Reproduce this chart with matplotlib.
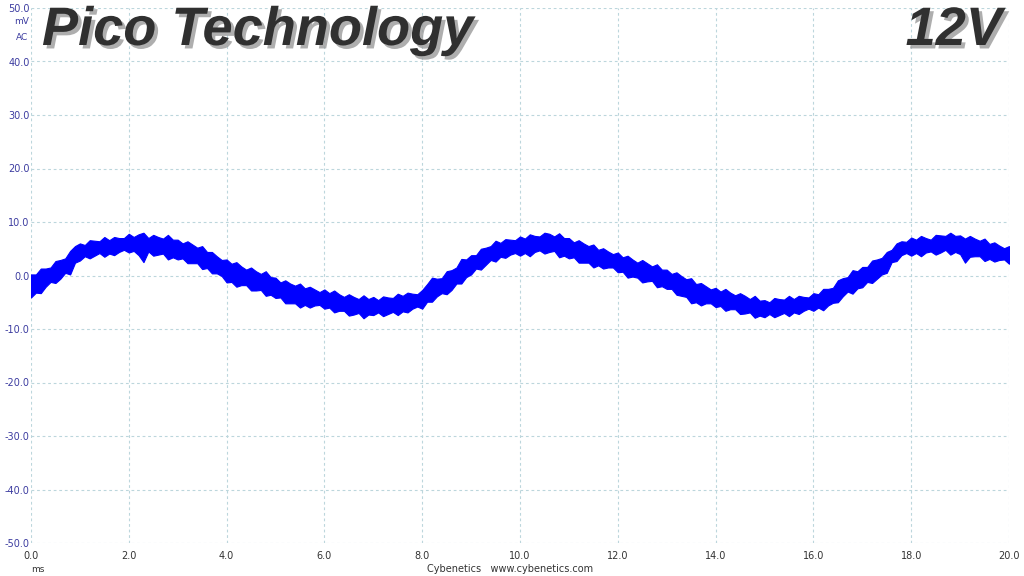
import matplotlib
matplotlib.use("Agg")
import matplotlib.pyplot as plt
import matplotlib.patheffects as pe

# ---- data: sample time (ms) and trace band edges (mV) ----
t_ms = [round(i * 0.1, 1) for i in range(201)]  # 0.0 ... 20.0 ms, 0.1 ms steps

upper_mv = [
    0.2, 0.2, 1.3, 1.3, 1.5, 2.7, 2.9, 3.2, 4.6, 5.5,
    6.0, 5.7, 6.6, 6.5, 6.4, 7.2, 6.6, 7.2, 7.0, 7.0,
    7.8, 7.2, 7.7, 8.0, 7.0, 7.6, 7.2, 6.9, 7.6, 6.7,
    6.7, 6.0, 6.4, 5.8, 5.2, 5.5, 4.4, 4.4, 3.6, 2.9,
    3.0, 2.2, 2.5, 1.7, 1.1, 1.5, 0.8, 0.3, 0.8, -0.3,
    -0.4, -1.3, -0.9, -1.5, -1.9, -1.5, -2.4, -2.1, -2.6, -3.1,
    -2.6, -3.3, -2.8, -3.5, -4.0, -3.5, -4.0, -4.4, -3.7, -4.4,
    -4.0, -4.6, -3.9, -4.1, -4.2, -3.4, -3.8, -3.2, -3.4, -3.5,
    -2.7, -1.6, -0.4, -0.6, -0.5, 0.8, 1.0, 1.5, 3.1, 3.0,
    3.8, 3.8, 5.0, 5.2, 5.5, 6.5, 6.1, 6.8, 6.7, 6.6,
    7.3, 6.9, 7.7, 7.4, 7.3, 8.0, 7.8, 7.3, 7.9, 7.0,
    7.0, 6.2, 6.6, 6.0, 5.5, 5.8, 4.8, 5.1, 4.5, 4.0,
    4.3, 3.4, 3.7, 3.0, 2.4, 2.9, 2.3, 1.7, 2.1, 1.1,
    1.1, 0.3, 0.6, -0.1, -0.7, -0.5, -1.6, -1.4, -2.0, -2.6,
    -2.3, -3.0, -2.5, -3.2, -3.7, -3.3, -3.8, -4.4, -3.8, -4.7,
    -4.6, -5.0, -4.2, -4.4, -4.5, -3.8, -4.4, -3.8, -4.0, -4.1,
    -3.3, -3.5, -2.5, -2.5, -2.3, -0.9, -0.5, -0.3, 1.0, 0.8,
    1.6, 1.6, 2.8, 3.0, 3.3, 4.4, 4.8, 6.0, 6.4, 6.3,
    7.1, 6.7, 7.4, 7.0, 6.7, 7.6, 7.5, 7.4, 8.0, 7.4,
    7.5, 6.9, 7.4, 6.9, 6.5, 6.9, 5.9, 6.2, 5.6, 5.1,
    5.5,
]

lower_mv = [
    -4.1, -3.2, -3.3, -2.1, -1.2, -1.4, -0.6, 0.5, 0.2, 2.4,
    2.8, 3.6, 3.2, 3.7, 4.2, 3.5, 4.1, 3.8, 4.4, 4.8,
    4.3, 4.6, 3.8, 2.5, 4.5, 3.7, 3.9, 4.1, 3.0, 3.4,
    3.0, 3.2, 2.3, 2.3, 2.3, 1.2, 1.4, 0.4, 0.4, -0.1,
    -1.3, -1.2, -2.1, -1.8, -1.8, -2.8, -2.8, -2.7, -3.8, -3.6,
    -4.2, -4.1, -5.2, -5.2, -5.2, -6.0, -5.5, -6.0, -5.6, -5.5,
    -6.2, -6.0, -6.9, -6.6, -6.6, -7.5, -7.3, -7.0, -8.0, -7.3,
    -7.4, -6.9, -7.6, -7.2, -6.8, -7.4, -6.7, -6.9, -6.2, -5.8,
    -6.2, -4.9, -4.9, -3.9, -3.3, -3.5, -2.7, -1.5, -1.5, -0.3,
    0.2, 1.3, 1.1, 2.0, 2.9, 2.6, 3.5, 3.3, 3.9, 4.2,
    3.7, 4.2, 3.6, 4.4, 4.7, 4.1, 4.4, 4.6, 3.4, 3.7,
    3.2, 3.4, 2.4, 2.4, 2.4, 1.5, 1.9, 1.3, 1.5, 1.5,
    0.6, 0.7, -0.4, -0.2, -0.4, -1.3, -1.1, -1.0, -2.2, -2.0,
    -2.5, -2.5, -3.6, -3.8, -4.0, -5.2, -5.0, -5.6, -5.2, -5.2,
    -5.9, -5.7, -6.6, -6.3, -6.3, -7.2, -7.1, -6.9, -7.9, -7.5,
    -7.8, -7.2, -7.8, -7.4, -7.0, -7.6, -6.9, -7.2, -6.6, -6.2,
    -6.6, -6.0, -6.5, -5.6, -5.1, -5.0, -3.9, -3.0, -3.4, -2.4,
    -2.2, -1.2, -1.4, -0.6, 0.2, 0.5, 2.5, 2.7, 3.8, 4.2,
    3.7, 4.2, 3.6, 4.3, 4.5, 3.9, 4.3, 4.8, 3.9, 4.4,
    4.0, 2.4, 3.5, 3.6, 3.6, 2.7, 3.1, 2.6, 2.9, 3.0,
    2.2,
]

x_ticks = [0.0, 2.0, 4.0, 6.0, 8.0, 10.0, 12.0, 14.0, 16.0, 18.0, 20.0]
y_ticks = [-50.0, -40.0, -30.0, -20.0, -10.0, 0.0, 10.0, 20.0, 30.0, 40.0, 50.0]
x_labels = ["%.1f" % v for v in x_ticks]
y_labels = ["%.1f" % v for v in y_ticks]

TRACE = "#0000ff"
GRID = "#bcd6dc"

fig = plt.figure(figsize=(10.24, 5.76), dpi=100)
ax = fig.add_axes([31 / 1024, 33 / 576, (1009 - 31) / 1024, (568 - 33) / 576])

ax.fill_between(t_ms, lower_mv, upper_mv, color=TRACE, linewidth=0.8,
                edgecolor=TRACE)

ax.set_xlim(0, 20)
ax.set_ylim(-50, 50)
ax.set_xticks(x_ticks)
ax.set_yticks(y_ticks)
ax.set_xticklabels(x_labels)
ax.set_yticklabels(y_labels)
ax.tick_params(axis="both", length=0, labelsize=7)
ax.tick_params(axis="x", pad=6, labelcolor="#333333")
ax.tick_params(axis="y", pad=1, labelcolor="#3c3ca0")
ax.grid(True, color=GRID, linestyle=(0, (2.5, 2.5)), linewidth=0.8)
for s in ax.spines.values():
    s.set_visible(False)
ax.set_axisbelow(True)

# axis unit annotations
fig.text(22 / 1024, 1 - 22 / 576, "mV", fontsize=6.5, color="#3c3ca0", ha="center", va="center")
fig.text(22 / 1024, 1 - 37 / 576, "AC", fontsize=6.5, color="#3c3ca0", ha="center", va="center")
fig.text(38 / 1024, 1 - 569 / 576, "ms", fontsize=6.5, color="#333333", ha="center", va="center")
fig.text(510 / 1024, 1 - 569 / 576, "Cybenetics   www.cybenetics.com", fontsize=7,
         color="#333333", ha="center", va="center")

shadow = [pe.withSimplePatchShadow(offset=(2.5, -2.5), shadow_rgbFace="#9a9a9a", alpha=0.8)]
fig.text(42 / 1024, 1 - 31 / 576, "Pico Technology", fontsize=39, fontweight="bold",
         fontstyle="italic", family="Liberation Sans", color="#303030",
         ha="left", va="center", path_effects=shadow)
fig.text(1002 / 1024, 1 - 31 / 576, "12V", fontsize=39, fontweight="bold",
         fontstyle="italic", family="Liberation Sans", color="#303030",
         ha="right", va="center", path_effects=shadow)

fig.savefig("out.png", dpi=100, facecolor="white")
